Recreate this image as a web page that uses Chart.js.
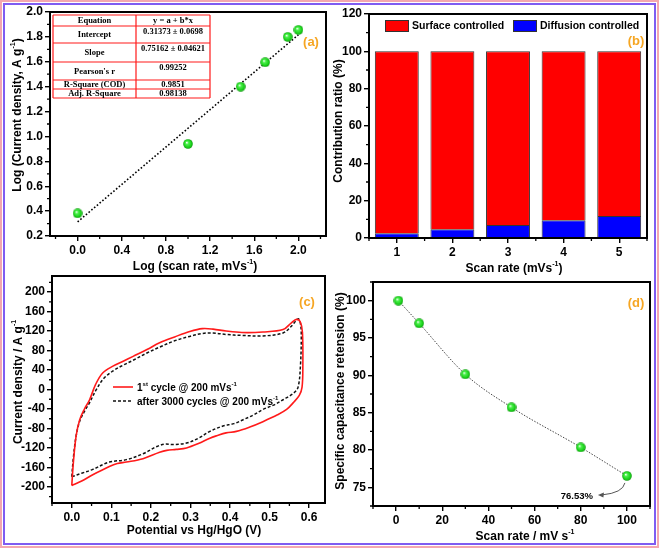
<!DOCTYPE html>
<html><head><meta charset="utf-8">
<script src="https://cdn.jsdelivr.net/npm/chart.js@4.4.1/dist/chart.umd.min.js"></script>
<style>
html,body{margin:0;padding:0;background:#fff;}
#wrap{position:relative;width:661px;height:549px;overflow:hidden;background:#fff;}
#wrap canvas{position:absolute;left:0;top:0;}
.bd{position:absolute;box-sizing:border-box;pointer-events:none;}
</style></head>
<body>
<div id="wrap">
  <div class="bd" style="left:0;top:0;width:659px;height:548px;border:2px solid #f4a7b0;"></div>
  <div class="bd" style="left:3px;top:3px;width:653px;height:542px;border:2px solid #7f5cf2;"></div>
</div>
<script>
// ---------------- DATA ----------------
// Panel (a): log-log fit
const aLogScanRate = [0, 1, 1.477, 1.699, 1.903, 2.0];
const aLogCurrent  = [0.382, 0.94, 1.40, 1.596, 1.80, 1.856];
const aFitIntercept = 0.31373;
const aFitSlope = 0.75162;
const aFitRange = [0, 2.0];
const aXTicks = [0, 0.4, 0.8, 1.2, 1.6, 2.0];
const aXMinor = [-0.2, 0.2, 0.6, 1.0, 1.4, 1.8, 2.2];
const aYTicks = [0.2, 0.4, 0.6, 0.8, 1.0, 1.2, 1.4, 1.6, 1.8, 2.0];
const aYMinor = [0.3, 0.5, 0.7, 0.9, 1.1, 1.3, 1.5, 1.7, 1.9];
const aTableLabels = ["Equation", "Intercept", "Slope", "Pearson's r", "R-Square (COD)", "Adj. R-Square"];
const aTableValues = ["y = a + b*x", "0.31373 \u00b1 0.0698", "0.75162 \u00b1 0.04621", "0.99252", "0.9851", "0.98138"];

// Panel (b): contribution ratio
const bCategories = ["1", "2", "3", "4", "5"];
const bDiffusion = [2.5, 4.7, 7.0, 9.5, 11.8];
const bSurface   = [97.5, 95.3, 93.0, 90.5, 88.2];
const bYTicks = [0, 20, 40, 60, 80, 100, 120];
const bYMinor = [10, 30, 50, 70, 90, 110];
const bXMinor = [-0.5, 0.5, 1.5, 2.5, 3.5, 4.5];

// Panel (c): CV curves
const cFirstV = [0.000, 0.004, 0.011, 0.020, 0.032, 0.045, 0.060, 0.078, 0.104, 0.130, 0.155, 0.190, 0.222, 0.260, 0.298, 0.330, 0.357, 0.390, 0.430, 0.483, 0.534, 0.555, 0.568, 0.578, 0.583, 0.584, 0.582, 0.575, 0.560, 0.543, 0.520, 0.483, 0.450, 0.416, 0.390, 0.366, 0.349, 0.320, 0.290, 0.264, 0.240, 0.222, 0.180, 0.138, 0.115, 0.095, 0.053, 0.025, 0.000];
const cFirstI = [-197, -150, -95, -62, -40, -21, 10, 34, 48, 58, 68, 82, 96, 108, 119, 125, 124, 120, 117, 118, 123, 137, 144, 138, 117, 48, 5, -12, -27, -41, -52, -66, -77, -86, -89, -95, -100, -111, -120, -123, -125, -129, -142, -149, -152, -158, -175, -188, -197];
const cAfterV = [0.000, 0.004, 0.011, 0.020, 0.032, 0.045, 0.060, 0.080, 0.104, 0.130, 0.155, 0.190, 0.222, 0.260, 0.298, 0.330, 0.357, 0.390, 0.430, 0.483, 0.534, 0.555, 0.572, 0.578, 0.580, 0.578, 0.572, 0.560, 0.534, 0.510, 0.483, 0.460, 0.433, 0.410, 0.382, 0.349, 0.320, 0.290, 0.256, 0.235, 0.215, 0.180, 0.138, 0.095, 0.053, 0.025, 0.000];
const cAfterI = [-179, -140, -95, -65, -45, -27, -3, 22, 38, 50, 60, 75, 87, 100, 109, 115, 116, 113, 111, 110, 116, 130, 145, 135, 110, 50, 5, -8, -21, -32, -41, -52, -62, -70, -75, -86, -100, -110, -113, -112, -117, -132, -144, -149, -164, -172, -179];
const cXTicks = [0, 0.1, 0.2, 0.3, 0.4, 0.5, 0.6];
const cXMinor = [-0.05, 0.05, 0.15, 0.25, 0.35, 0.45, 0.55, 0.65];
const cYTicks = [-200, -160, -120, -80, -40, 0, 40, 80, 120, 160, 200];
const cYMinor = [-220, -180, -140, -100, -60, -20, 20, 60, 100, 140, 180, 220];

// Panel (d): capacitance retention
const dScanRate  = [1, 10, 30, 50, 80, 100];
const dRetention = [100, 96.96, 90.13, 85.71, 80.35, 76.53];
const dXTicks = [0, 20, 40, 60, 80, 100];
const dXMinor = [-10, 10, 30, 50, 70, 90, 110];
const dYTicks = [75, 80, 85, 90, 95, 100];
const dYMinor = [72.5, 77.5, 82.5, 87.5, 92.5, 97.5, 102.5];

// ---------------- HELPERS ----------------
const FONT = '"Liberation Sans", Arial, Helvetica, sans-serif';
const SERIF = '"Liberation Serif", "Times New Roman", serif';
const TAG = '#f6a623';
const W = 661, H = 549, YW = 40, XH = 30;
const wrap = document.getElementById('wrap');

function mkCanvas() {
  const c = document.createElement('canvas');
  c.width = W; c.height = H; c.style.width = W + 'px'; c.style.height = H + 'px';
  wrap.insertBefore(c, wrap.firstChild);
  return c;
}

function sphere(d) {
  const c = document.createElement('canvas'); c.width = c.height = d;
  const g = c.getContext('2d'); const r = d / 2;
  const grad = g.createRadialGradient(r * 0.75, r * 0.7, r * 0.05, r, r, r);
  grad.addColorStop(0, '#f4fff4');
  grad.addColorStop(0.28, '#4cf04c');
  grad.addColorStop(0.75, '#18d018');
  grad.addColorStop(1, '#0b8e0b');
  g.fillStyle = grad; g.beginPath(); g.arc(r, r, r - 0.2, 0, Math.PI * 2); g.fill();
  return c;
}
const SPH = sphere(10);

function rich(ctx, parts, x, y, size, rot, align, stretch) {
  ctx.save();
  ctx.translate(x, y);
  if (rot) ctx.rotate(-Math.PI / 2);
  if (stretch) ctx.scale(1, stretch);
  ctx.fillStyle = '#000'; ctx.textBaseline = 'alphabetic'; ctx.textAlign = 'left';
  const fN = `bold ${size}px ${FONT}`, fS = `bold ${Math.round(size * 0.62)}px ${FONT}`;
  let tot = 0;
  const ws = parts.map(([t, s]) => { ctx.font = s ? fS : fN; const w = ctx.measureText(t).width; tot += w; return w; });
  let cx = align === 'left' ? 0 : -tot / 2;
  const base = size * 0.36;
  parts.forEach(([t, s], i) => { ctx.font = s ? fS : fN; ctx.fillText(t, cx, s ? base - size * 0.42 : base); cx += ws[i]; });
  ctx.restore();
}

function linAxis(min, max, ticks, fmt, isX) {
  return {
    type: 'linear', min, max,
    afterBuildTicks: s => { s.ticks = ticks.map(v => ({ value: v })); },
    afterFit: s => { if (isX) s.height = XH; else s.width = YW; },
    ticks: { callback: v => fmt(v), color: '#000', font: { family: FONT, size: 12, weight: 'bold' }, padding: 2, autoSkip: false, maxRotation: 0 },
    grid: { drawOnChartArea: false, drawTicks: true, tickLength: 5, color: '#000', lineWidth: 1.4 },
    border: { display: true, color: '#000', width: 2 }
  };
}

function padFor(l, t, r, b) { return { left: l - YW, top: t, right: W - r, bottom: H - b - XH }; }

function deco(cfg) {
  return {
    id: 'deco',
    afterDraw(chart) {
      const ctx = chart.ctx, ca = chart.chartArea, sx = chart.scales.x, sy = chart.scales.y;
      ctx.save();
      ctx.strokeStyle = '#000'; ctx.lineWidth = 2;
      ctx.strokeRect(ca.left, ca.top, ca.right - ca.left, ca.bottom - ca.top);
      ctx.lineWidth = 1.3; ctx.beginPath();
      (cfg.xMinor || []).forEach(v => { const p = sx.getPixelForValue(v); if (p < ca.left - 0.6 || p > ca.right + 0.6) return; ctx.moveTo(p, ca.bottom); ctx.lineTo(p, ca.bottom + 3); });
      (cfg.yMinor || []).forEach(v => { const p = sy.getPixelForValue(v); if (p < ca.top - 0.6 || p > ca.bottom + 0.6) return; ctx.moveTo(ca.left, p); ctx.lineTo(ca.left - 3, p); });
      ctx.stroke();
      rich(ctx, cfg.xTitle, cfg.xTitlePos[0], cfg.xTitlePos[1], 12, false, 'center', 1.12);
      rich(ctx, cfg.yTitle, cfg.yTitlePos[0], cfg.yTitlePos[1], 12, true, 'center', 1.12);
      ctx.font = `bold 13px ${FONT}`; ctx.fillStyle = TAG; ctx.textAlign = 'center'; ctx.textBaseline = 'middle';
      ctx.fillText(cfg.tag, cfg.tagPos[0], cfg.tagPos[1]);
      if (cfg.extra) cfg.extra(chart, ctx);
      ctx.restore();
    }
  };
}

const base = { responsive: false, animation: false, devicePixelRatio: 1,
  plugins: { legend: { display: false }, tooltip: { enabled: false } } };

// ---------------- (a) ----------------
new Chart(mkCanvas(), {
  type: 'scatter',
  data: { datasets: [
    { data: aLogScanRate.map((x, i) => ({ x, y: aLogCurrent[i] })), pointStyle: SPH, pointRadius: 5, showLine: false },
    { data: aFitRange.map(x => ({ x, y: aFitIntercept + aFitSlope * x })), showLine: true, pointRadius: 0, borderColor: '#000', borderWidth: 1.6, borderDash: [1.6, 2] }
  ] },
  options: Object.assign({}, base, {
    layout: { padding: padFor(50, 12, 326, 236) },
    scales: {
      x: linAxis(-0.25, 2.25, aXTicks, v => v.toFixed(1), true),
      y: linAxis(0.2, 2.0, aYTicks, v => v.toFixed(1), false)
    }
  }),
  plugins: [deco({
    xMinor: aXMinor, yMinor: aYMinor,
    xTitle: [['Log (scan rate, mVs'], ['-1', true], [')']], xTitlePos: [195, 265],
    yTitle: [['Log (Current density, A g'], ['-1', true], [')']], yTitlePos: [16, 115],
    tag: '(a)', tagPos: [311, 42],
    extra(chart, ctx) {
      const xs = [53, 136, 210], ys = [15, 26, 43, 62, 80, 89, 98];
      ctx.fillStyle = '#fff'; ctx.fillRect(xs[0], ys[0], xs[2] - xs[0], ys[6] - ys[0]);
      ctx.strokeStyle = '#ff1a1a'; ctx.lineWidth = 1.2; ctx.beginPath();
      ys.forEach(y => { ctx.moveTo(xs[0], y); ctx.lineTo(xs[2], y); });
      xs.forEach(x => { ctx.moveTo(x, ys[0]); ctx.lineTo(x, ys[6]); });
      ctx.stroke();
      ctx.fillStyle = '#000'; ctx.font = `bold 8.5px ${SERIF}`; ctx.textAlign = 'center'; ctx.textBaseline = 'middle';
      aTableLabels.forEach((t, i) => {
        const top = ys[i], bot = ys[i + 1], mid = (top + bot) / 2;
        ctx.fillText(t, (xs[0] + xs[1]) / 2, mid + 0.5);
        ctx.fillText(aTableValues[i], (xs[1] + xs[2]) / 2, Math.min(mid, top + 5.5) + 0.5);
      });
    }
  })]
});

// ---------------- (b) ----------------
new Chart(mkCanvas(), {
  type: 'bar',
  data: { labels: bCategories, datasets: [
    { label: 'Diffusion controlled', data: bDiffusion, backgroundColor: '#0000ff', borderColor: '#333', borderWidth: 1, categoryPercentage: 1, barPercentage: 0.79 },
    { label: 'Surface controlled', data: bSurface, backgroundColor: '#ff0000', borderColor: '#333', borderWidth: 1, categoryPercentage: 1, barPercentage: 0.79 }
  ] },
  options: Object.assign({}, base, {
    layout: { padding: padFor(369, 14, 647, 238) },
    scales: {
      x: { type: 'category', stacked: true, offset: true,
        afterFit: s => { s.height = XH; },
        ticks: { color: '#000', font: { family: FONT, size: 12, weight: 'bold' }, padding: 2, maxRotation: 0 },
        grid: { offset: false, drawOnChartArea: false, drawTicks: true, tickLength: 5, color: '#000', lineWidth: 1.4 },
        border: { display: true, color: '#000', width: 2 } },
      y: Object.assign(linAxis(0, 120, bYTicks, v => String(v), false), { stacked: true })
    }
  }),
  plugins: [deco({
    xMinor: bXMinor, yMinor: bYMinor,
    xTitle: [['Scan rate (mVs'], ['-1', true], [')']], xTitlePos: [514, 267],
    yTitle: [['Contribution ratio (%)']], yTitlePos: [337, 121],
    tag: '(b)', tagPos: [636, 41],
    extra(chart, ctx) {
      const items = [['#ff0000', 'Surface controlled', 385], ['#0000ff', 'Diffusion controlled', 513]];
      items.forEach(([c, t, x]) => {
        ctx.fillStyle = c; ctx.fillRect(x, 20, 24, 12);
        ctx.strokeStyle = '#333'; ctx.lineWidth = 1; ctx.strokeRect(x + 0.5, 20.5, 23, 11);
        ctx.fillStyle = '#000'; ctx.font = `bold 10.5px ${FONT}`; ctx.textAlign = 'left'; ctx.textBaseline = 'middle';
        ctx.fillText(t, x + 27, 26.5);
      });
    }
  })]
});

// ---------------- (c) ----------------
new Chart(mkCanvas(), {
  type: 'scatter',
  data: { datasets: [
    { data: cFirstV.map((x, i) => ({ x, y: cFirstI[i] })), showLine: true, pointRadius: 0, borderColor: '#ff1a1a', borderWidth: 1.6, tension: 0.35 },
    { data: cAfterV.map((x, i) => ({ x, y: cAfterI[i] })), showLine: true, pointRadius: 0, borderColor: '#111', borderWidth: 1.5, borderDash: [3, 2], tension: 0.35 }
  ] },
  options: Object.assign({}, base, {
    layout: { padding: padFor(52, 276, 325, 503) },
    scales: {
      x: linAxis(-0.05, 0.64, cXTicks, v => v.toFixed(1), true),
      y: linAxis(-233, 233, cYTicks, v => String(v), false)
    }
  }),
  plugins: [deco({
    xMinor: cXMinor, yMinor: cYMinor,
    xTitle: [['Potential vs Hg/HgO (V)']], xTitlePos: [194, 529],
    yTitle: [['Current density / A g'], ['-1', true]], yTitlePos: [17, 382],
    tag: '(c)', tagPos: [307, 302],
    extra(chart, ctx) {
      ctx.lineWidth = 1.6; ctx.strokeStyle = '#ff1a1a'; ctx.setLineDash([]);
      ctx.beginPath(); ctx.moveTo(113, 387); ctx.lineTo(133, 387); ctx.stroke();
      ctx.lineWidth = 1.5; ctx.strokeStyle = '#111'; ctx.setLineDash([3, 2]);
      ctx.beginPath(); ctx.moveTo(113, 401); ctx.lineTo(133, 401); ctx.stroke();
      ctx.setLineDash([]);
      rich(ctx, [['1'], ['st', true], [' cycle @ 200 mVs'], ['-1', true]], 137, 387, 10, false, 'left');
      rich(ctx, [['after 3000 cycles @ 200 mVs'], ['-1', true]], 137, 401, 10, false, 'left');
    }
  })]
});

// ---------------- (d) ----------------
new Chart(mkCanvas(), {
  type: 'scatter',
  data: { datasets: [
    { data: dScanRate.map((x, i) => ({ x, y: dRetention[i] })), showLine: true, pointStyle: SPH, pointRadius: 5,
      borderColor: '#444', borderWidth: 1, borderDash: [1.5, 1.5], cubicInterpolationMode: 'monotone' }
  ] },
  options: Object.assign({}, base, {
    layout: { padding: padFor(373, 282, 650, 506) },
    scales: {
      x: linAxis(-10, 110, dXTicks, v => String(v), true),
      y: linAxis(72.5, 102.5, dYTicks, v => String(v), false)
    }
  }),
  plugins: [deco({
    xMinor: dXMinor, yMinor: dYMinor,
    xTitle: [['Scan rate / mV s'], ['-1', true]], xTitlePos: [525, 535],
    yTitle: [['Specific capacitance retension (%)']], yTitlePos: [339, 391],
    tag: '(d)', tagPos: [636, 303],
    extra(chart, ctx) {
      const sx = chart.scales.x, sy = chart.scales.y;
      const n = dScanRate.length - 1;
      const px = sx.getPixelForValue(dScanRate[n]), py = sy.getPixelForValue(dRetention[n]);
      ctx.strokeStyle = '#555'; ctx.lineWidth = 1; ctx.setLineDash([]);
      ctx.beginPath(); ctx.moveTo(px - 2, py + 7); ctx.quadraticCurveTo(px - 4, py + 17, px - 25, py + 19); ctx.stroke();
      ctx.fillStyle = '#555'; ctx.beginPath();
      ctx.moveTo(px - 29, py + 19.2); ctx.lineTo(px - 23, py + 16.5); ctx.lineTo(px - 23.5, py + 21.5); ctx.closePath(); ctx.fill();
      ctx.fillStyle = '#000'; ctx.font = `bold 9.5px ${FONT}`; ctx.textAlign = 'center'; ctx.textBaseline = 'middle';
      ctx.fillText(dRetention[n].toFixed(2) + '%', px - 50, py + 20);
    }
  })]
});
</script>
</body></html>
